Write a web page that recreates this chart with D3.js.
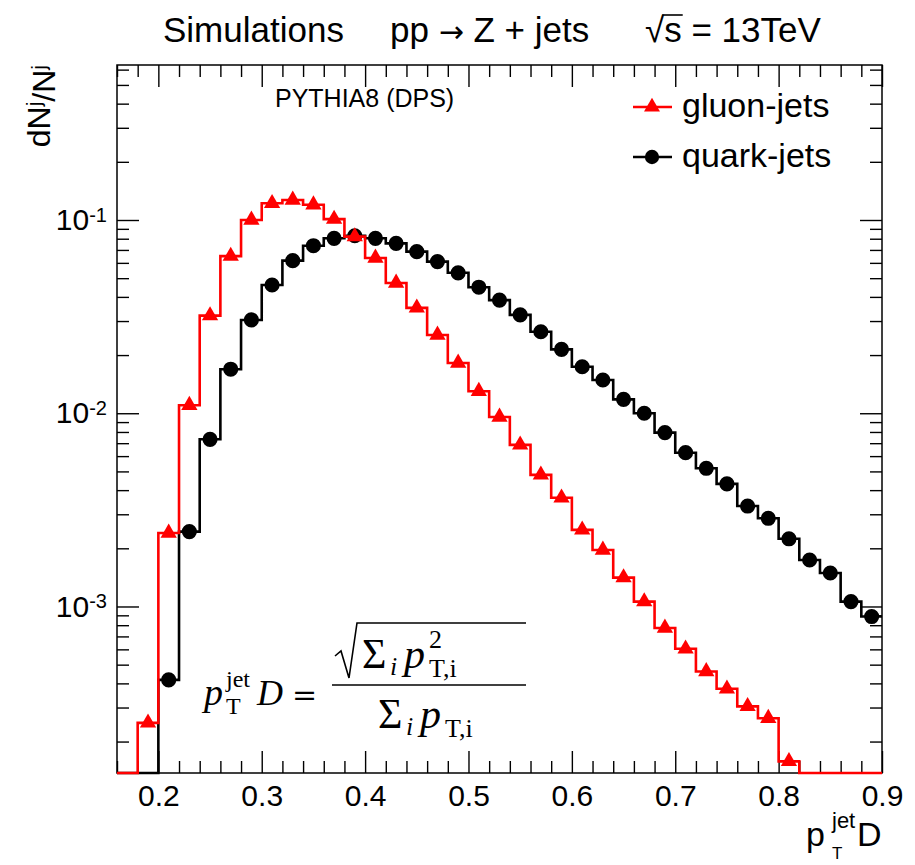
<!DOCTYPE html>
<html>
<head>
<meta charset="utf-8">
<script src="https://cdn.jsdelivr.net/npm/d3@7"></script>
<style>
  body { margin: 0; background: #fff; }
  text { font-family: "Liberation Sans", Arial, "DejaVu Sans", sans-serif; fill: #000; }
  text.tex { font-family: "Liberation Serif", "DejaVu Serif", serif; }
</style>
</head>
<body>
<script>
// p_T^jet D histogram, bins of width 0.02 (bin centres below)
var binCenters = [0.17, 0.19, 0.21, 0.23, 0.25, 0.27, 0.29, 0.31, 0.33, 0.35,
                  0.37, 0.39, 0.41, 0.43, 0.45, 0.47, 0.49, 0.51, 0.53, 0.55,
                  0.57, 0.59, 0.61, 0.63, 0.65, 0.67, 0.69, 0.71, 0.73, 0.75,
                  0.77, 0.79, 0.81, 0.83, 0.85, 0.87, 0.89];
var binWidth = 0.02;

// dN/N per bin (0 = empty bin)
var gluonValues = [0, 2.5e-4, 2.4e-3, 1.10e-2, 3.2e-2, 6.5e-2, 0.100, 0.122, 0.127, 0.120,
                   0.101, 0.082, 0.0636, 0.0472, 0.0351, 0.0254, 0.0182, 0.0130, 0.00957, 0.00686,
                   0.0048, 0.00365, 0.00249, 0.00196, 0.00141, 0.00106, 7.74e-4, 6.04e-4, 4.61e-4, 3.75e-4,
                   3.04e-4, 2.64e-4, 1.58e-4, 0, 0, 0, 0];
var quarkValues = [0, 0, 4.17e-4, 2.44e-3, 7.33e-3, 0.0169, 0.0304, 0.0461, 0.0616, 0.0736,
                   0.0804, 0.0829, 0.0804, 0.0757, 0.0686, 0.0609, 0.0533, 0.0449, 0.0385, 0.0323,
                   0.0264, 0.0214, 0.0174, 0.01486, 0.0118, 0.0100, 0.00794, 0.00625, 0.00519, 0.00431,
                   0.00331, 0.00286, 0.00224, 0.00174, 0.00149, 0.00106, 8.87e-4];

var seriesNames = ["gluon-jets", "quark-jets"];
var xTickValues = [0.2, 0.3, 0.4, 0.5, 0.6, 0.7, 0.8, 0.9];
var yTickValues = [1e-3, 1e-2, 1e-1];
var yTickExponents = ["-3", "-2", "-1"];

var width = 915, height = 865;

var svg = d3.select("body").append("svg")
    .attr("width", width)
    .attr("height", height);

var x = d3.scaleLinear().domain([0.16, 0.9]).range([117, 882]);
var y = d3.scaleLog().domain([1.375e-4, 0.634]).range([773, 65]).clamp(true);

var x0 = x.range()[0], x1 = x.range()[1], yb = y.range()[0], yt = y.range()[1];

/* ---------- frame + ticks ---------- */
var xMinor = d3.range(0.16, 0.9001, 0.02).filter(function(v) {
  return Math.abs(v * 10 - Math.round(v * 10)) > 1e-6;
});
var yMinor = y.ticks().filter(function(v) {
  return yTickValues.indexOf(v) < 0;
});

function styleAxis(g) {
  g.select(".domain").remove();
  g.selectAll(".tick line").attr("stroke", "#000").attr("stroke-width", 1.4);
}

// bottom
svg.append("g").attr("transform", "translate(0," + yb + ")")
  .call(d3.axisBottom(x).tickValues(xTickValues).tickSize(-22).tickPadding(12)
        .tickFormat(d3.format(".1f")))
  .call(styleAxis)
  .selectAll("text").style("font-size", "30px");
svg.append("g").attr("transform", "translate(0," + yb + ")")
  .call(d3.axisBottom(x).tickValues(xMinor).tickSize(-12).tickFormat(""))
  .call(styleAxis);
// top (mirror)
svg.append("g").attr("transform", "translate(0," + yt + ")")
  .call(d3.axisTop(x).tickValues(xTickValues).tickSize(-22).tickFormat(""))
  .call(styleAxis);
svg.append("g").attr("transform", "translate(0," + yt + ")")
  .call(d3.axisTop(x).tickValues(xMinor).tickSize(-12).tickFormat(""))
  .call(styleAxis);

// left
var leftAxis = svg.append("g").attr("transform", "translate(" + x0 + ",0)")
  .call(d3.axisLeft(y).tickValues(yTickValues).tickSize(-22).tickPadding(10))
  .call(styleAxis);
leftAxis.selectAll(".tick text")
  .text(null)
  .style("font-size", "30px")
  .each(function(d) {
    var t = d3.select(this);
    t.append("tspan").text("10");
    t.append("tspan").attr("dy", "-0.42em").style("font-size", "20px")
      .text(yTickExponents[yTickValues.indexOf(d)]);
  });
svg.append("g").attr("transform", "translate(" + x0 + ",0)")
  .call(d3.axisLeft(y).tickValues(yMinor).tickSize(-12).tickFormat(""))
  .call(styleAxis);
// right (mirror)
svg.append("g").attr("transform", "translate(" + x1 + ",0)")
  .call(d3.axisRight(y).tickValues(yTickValues).tickSize(-22).tickFormat(""))
  .call(styleAxis);
svg.append("g").attr("transform", "translate(" + x1 + ",0)")
  .call(d3.axisRight(y).tickValues(yMinor).tickSize(-12).tickFormat(""))
  .call(styleAxis);

svg.append("rect")
  .attr("x", x0).attr("y", yt)
  .attr("width", x1 - x0).attr("height", yb - yt)
  .attr("fill", "none").attr("stroke", "#000").attr("stroke-width", 1.5);

/* ---------- histograms ---------- */
var line = d3.line()
  .x(function(d) { return x(d[0]); })
  .y(function(d) { return y(d[1]); });

function stepPoints(vals) {
  var pts = [];
  binCenters.forEach(function(c, i) {
    var v = vals[i] > 0 ? vals[i] : y.domain()[0];
    pts.push([c - binWidth / 2, v], [c + binWidth / 2, v]);
  });
  return pts;
}

var series = [
  { name: seriesNames[1], values: quarkValues, color: "#000", marker: d3.symbolCircle, size: 180 },
  { name: seriesNames[0], values: gluonValues, color: "#ff0000", marker: d3.symbolTriangle, size: 115 }
];

series.forEach(function(s) {
  svg.append("path")
    .attr("d", line(stepPoints(s.values)))
    .attr("fill", "none")
    .attr("stroke", s.color)
    .attr("stroke-width", 2.6);

  svg.append("g").selectAll("path")
    .data(binCenters.map(function(c, i) { return [c, s.values[i]]; })
          .filter(function(d) { return d[1] > 0; }))
    .enter().append("path")
    .attr("transform", function(d) { return "translate(" + x(d[0]) + "," + y(d[1]) + ")"; })
    .attr("d", d3.symbol().type(s.marker).size(s.size))
    .attr("fill", s.color);
});

/* ---------- legend ---------- */
var legendRows = [
  { name: seriesNames[0], color: "#ff0000", marker: d3.symbolTriangle, size: 110, yPos: 107 },
  { name: seriesNames[1], color: "#000", marker: d3.symbolCircle, size: 160, yPos: 157 }
];
legendRows.forEach(function(r) {
  svg.append("line")
    .attr("x1", 633).attr("x2", 672).attr("y1", r.yPos).attr("y2", r.yPos)
    .attr("stroke", r.color).attr("stroke-width", 2.6);
  svg.append("path")
    .attr("transform", "translate(652," + r.yPos + ")")
    .attr("d", d3.symbol().type(r.marker).size(r.size))
    .attr("fill", r.color);
  svg.append("text")
    .attr("x", 682).attr("y", r.yPos + 10)
    .style("font-size", "34px")
    .text(r.name);
});

/* ---------- texts ---------- */
svg.append("text").attr("x", 275).attr("y", 107).style("font-size", "25px").text("PYTHIA8 (DPS)");

// title
svg.append("text").attr("x", 163).attr("y", 42).style("font-size", "35px").text("Simulations");
var proc = svg.append("text").attr("x", 390).attr("y", 42).style("font-size", "35px");
proc.append("tspan").text("pp ");
proc.append("tspan").style("font-family", "'DejaVu Sans', sans-serif").style("font-size", "30px").text("\u2192");
proc.append("tspan").text(" Z + jets");
var rad = svg.append("text").attr("x", 645).attr("y", 42).style("font-size", "35px");
rad.append("tspan").text("\u221A");
rad.append("tspan").text("s = 13TeV");
var radW = rad.node().getSubStringLength(0, 1);
var sW = rad.node().getSubStringLength(1, 1);
svg.append("line")
  .attr("x1", 645 + radW - 2).attr("x2", 645 + radW + sW + 1)
  .attr("y1", 15).attr("y2", 15)
  .attr("stroke", "#000").attr("stroke-width", 1.6);

// y title
var yTitle = svg.append("text")
  .attr("transform", "translate(50," + yt + ") rotate(-90)")
  .attr("text-anchor", "end")
  .style("font-size", "32px");
yTitle.append("tspan").text("dN");
yTitle.append("tspan").attr("dy", "-0.45em").style("font-size", "21px").text("j");
yTitle.append("tspan").attr("dy", "0.45em").text("/N");
yTitle.append("tspan").attr("dy", "-0.45em").style("font-size", "21px").text("j");

// x title
svg.append("text").attr("x", 806).attr("y", 846).style("font-size", "34px").text("p");
svg.append("text").attr("x", 832).attr("y", 828).style("font-size", "22px").text("jet");
svg.append("text").attr("x", 832).attr("y", 859).style("font-size", "17px").text("T");
svg.append("text").attr("x", 857).attr("y", 846).style("font-size", "34px").text("D");

/* ---------- formula ---------- */
function tex(xp, yp, str, size, italic) {
  return svg.append("text").attr("class", "tex")
    .attr("x", xp).attr("y", yp)
    .style("font-size", size + "px")
    .style("font-style", italic ? "italic" : "normal")
    .text(str);
}
tex(204, 705, "p", 38, true);
tex(226, 687, "jet", 24, false);
tex(226, 714, "T", 24, false);
tex(257, 705, "D", 36, true);
tex(292, 705, "=", 30, false).style("font-family", "'DejaVu Serif', serif");
// fraction bar + radical
svg.append("line").attr("x1", 332).attr("x2", 526).attr("y1", 685).attr("y2", 685)
  .attr("stroke", "#000").attr("stroke-width", 1.6);
svg.append("path")
  .attr("d", "M335,656 L341,651 L349,678 L357,623 H526")
  .attr("fill", "none").attr("stroke", "#000").attr("stroke-width", 1.6);
// numerator
tex(362, 668, "\u03A3", 42, false);
tex(390, 675, "i", 26, true);
tex(404, 668, "p", 42, true);
tex(429, 648, "2", 26, false);
tex(429, 677, "T,i", 26, false);
// denominator
tex(378, 728, "\u03A3", 42, false);
tex(406, 735, "i", 26, true);
tex(420, 728, "p", 42, true);
tex(445, 737, "T,i", 26, false);
</script>
</body>
</html>
